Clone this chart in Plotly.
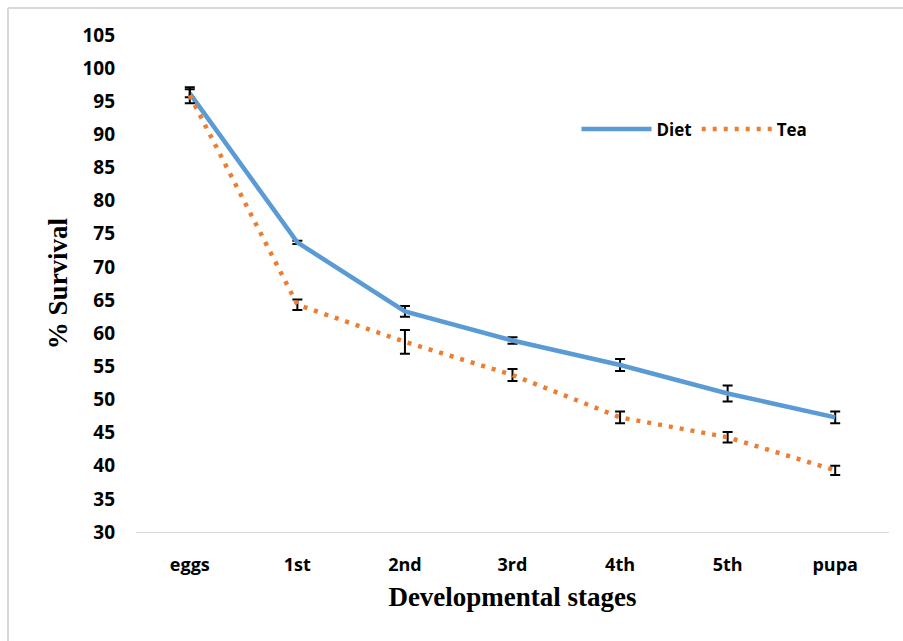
import plotly.graph_objects as go

stages = ["eggs", "1st", "2nd", "3rd", "4th", "5th", "pupa"]
diet = [96.2, 73.7, 63.3, 58.9, 55.2, 50.9, 47.3]
diet_err = [0.6, 0.25, 0.8, 0.5, 0.9, 1.2, 0.9]
tea = [95.9, 64.3, 58.7, 53.7, 47.3, 44.3, 39.3]
tea_err = [1.2, 0.8, 1.8, 0.9, 0.9, 0.8, 0.7]
y_ticks = list(range(30, 106, 5))

fig = go.Figure()
fig.add_trace(go.Scatter(
    x=stages, y=diet, name="Diet", mode="lines",
    line=dict(color="#5b9bd5", width=4.5),
    error_y=dict(type="data", array=diet_err, color="black", thickness=2, width=5),
))
fig.add_trace(go.Scatter(
    x=stages, y=tea, name="Tea", mode="lines",
    line=dict(color="#ed7d31", width=4.5, dash="4px,7px"),
    error_y=dict(type="data", array=tea_err, color="black", thickness=2, width=5),
))

L, R, T, B = 136, 14, 35, 109
W, H = 903, 641
pw, ph = W - L - R, H - T - B
bx = (8 - L) / pw
by = (H - B - 8) / ph

fig.update_layout(
    width=W, height=H,
    margin=dict(l=L, r=R, t=T, b=B),
    paper_bgcolor="white", plot_bgcolor="white",
    showlegend=True,
    legend=dict(orientation="h", x=0.585, y=0.81, xanchor="left", yanchor="middle",
                font=dict(family="Open Sans", size=17, color="black", weight="bold"),
                bgcolor="rgba(0,0,0,0)", itemwidth=70, tracegroupgap=0),
    shapes=[
        dict(type="line", xref="paper", yref="paper", x0=bx, x1=bx, y0=-1, y1=by,
             line=dict(color="#d9d9d9", width=2)),
        dict(type="line", xref="paper", yref="paper", x0=bx, x1=1.2, y0=by, y1=by,
             line=dict(color="#d9d9d9", width=2)),
    ],
)
fig.update_xaxes(
    type="category", range=[-0.5, 6.5], showgrid=False, showline=True,
    linecolor="#d9d9d9", linewidth=1,
    ticks="", tickfont=dict(family="Open Sans", size=18, color="black", weight="bold"),
    ticklabelstandoff=16,
    title=dict(text="Developmental stages", standoff=12,
               font=dict(family="Liberation Serif", size=27, color="black", weight="bold")),
)
fig.update_yaxes(
    range=[30, 105], tickvals=y_ticks, showgrid=False, showline=False, zeroline=False,
    ticks="", tickfont=dict(family="Open Sans", size=19, color="black", weight="bold"),
    ticklabelstandoff=20,
    title=dict(text="% Survival", standoff=6,
               font=dict(family="Liberation Serif", size=27, color="black", weight="bold")),
)

fig.write_html("out.html")
